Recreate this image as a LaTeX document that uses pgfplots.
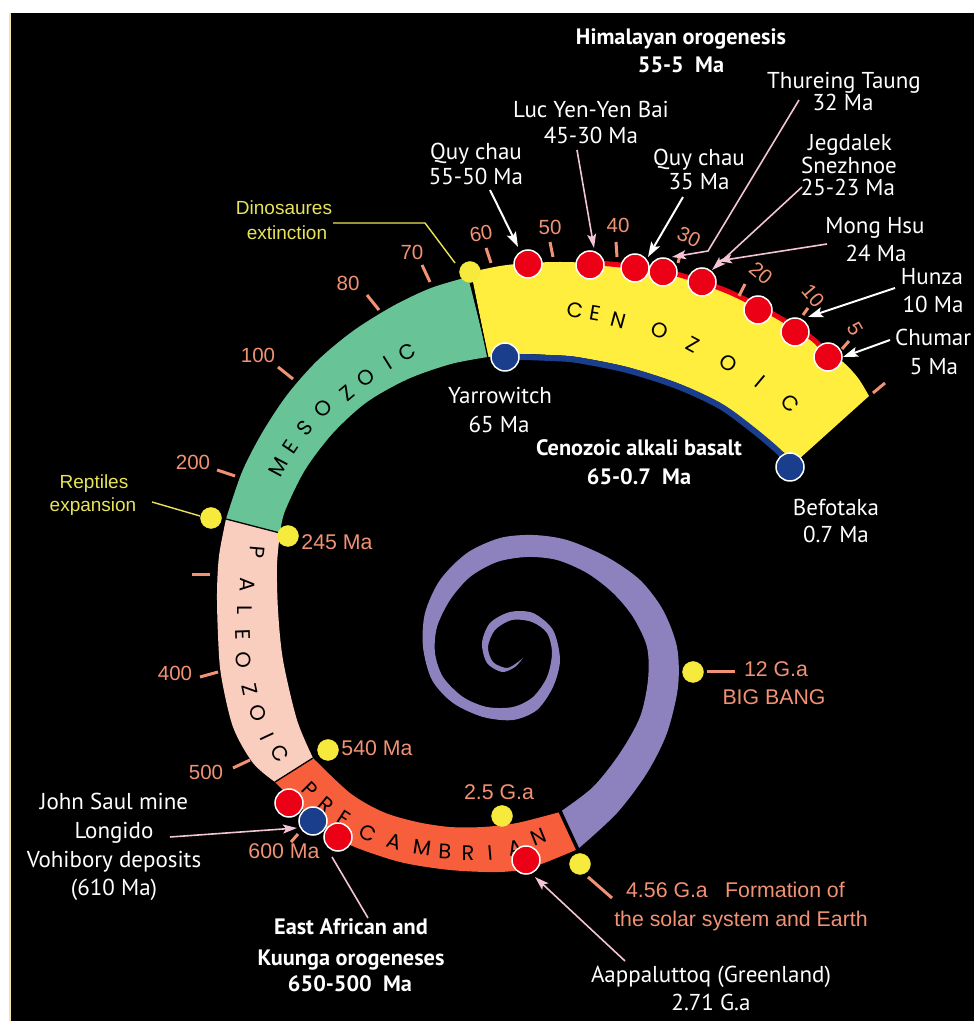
\documentclass[border=0pt]{standalone}
\usepackage{pgfplots}
\pgfplotsset{compat=1.18}
\usepgfplotslibrary{fillbetween}
\usetikzlibrary{arrows.meta}
\usepackage{fontspec}
\setmainfont{PT Sans}
\newfontfamily\arialf{Liberation Sans}
\newfontfamily\geof{Poppins}
\definecolor{cenyellow}{RGB}{255,238,62}
\definecolor{mesogreen}{RGB}{104,196,150}
\definecolor{paleopink}{RGB}{250,206,190}
\definecolor{precam}{RGB}{247,94,60}
\definecolor{purp}{RGB}{142,130,190}
\definecolor{dotred}{RGB}{236,0,22}
\definecolor{dotblue}{RGB}{26,62,140}
\definecolor{doty}{RGB}{246,234,60}
\definecolor{salmon}{RGB}{242,146,116}
\definecolor{ytext}{RGB}{232,228,90}
\definecolor{pinkl}{RGB}{242,196,214}
\definecolor{margl}{RGB}{246,228,165}
\tikzset{
 wt/.style={text=white, inner sep=0pt, anchor=base, font=\fontsize{23}{26}\selectfont},
 wb/.style={text=white, inner sep=0pt, anchor=base, font=\bfseries\fontsize{22.3}{25}\selectfont},
 sl/.style={text=salmon, inner sep=0pt, anchor=base, font=\arialf\fontsize{21.3}{23}\selectfont},
 tl/.style={text=salmon, inner sep=0pt, anchor=center, font=\arialf\fontsize{20.5}{22}\selectfont},
 yl/.style={text=ytext, inner sep=0pt, anchor=base, font=\arialf\fontsize{19}{21}\selectfont},
 bl/.style={text=black, inner sep=0pt, anchor=center, font=\geof\fontsize{21}{22}\selectfont},
}
\begin{document}
\begin{tikzpicture}
\begin{axis}[
 width=974pt, height=1021pt, scale only axis,
 xmin=0, xmax=974, ymin=0, ymax=1021, y dir=reverse,
 axis lines=none, xtick=\empty, ytick=\empty,
 axis background/.style={fill=black},
 set layers,
]
% ---------- spiral bands ----------
\addplot[draw=none, smooth, name path=cenO] coordinates {(471,272)(500,266)(528,263)(560,262)(593,263)(620,265)(650,269)(680,275)(727,291)(773,314)(813,339)(843,362)(858,378)(869,396)};
\addplot[draw=none, smooth, name path=cenI] coordinates {(488,357)(520,354)(550,355)(577,357)(627,367)(677,383)(720,403)(753,427)(780,450)(799,459)};
\addplot[fill=cenyellow, draw=none] fill between[of=cenO and cenI];

\addplot[draw=none, smooth, name path=mesO] coordinates {(468,277)(431,288)(393,306)(353,331)(317,361)(287,395)(262,433)(242,472)(226,519)};
\addplot[draw=none, smooth, name path=mesI] coordinates {(488,357)(451,364)(408,379)(367,402)(333,433)(305,470)(285,511)(280,533)};
\addplot[fill=mesogreen, draw=none] fill between[of=mesO and mesI];

\addplot[draw=none, smooth, name path=palO] coordinates {(226,519)(219,556)(217,593)(218,635)(221,675)(233,727)(253,763)(275,782)};
\addplot[draw=none, smooth, name path=palI] coordinates {(280,533)(277,565)(278,610)(283,660)(297,720)(313,758)};
\addplot[fill=paleopink, draw=none] fill between[of=palO and palI];

\addplot[draw=none, smooth, name path=preO] coordinates {(275,782)(300,807)(325,828)(350,845)(400,862)(450,870)(500,872)(533,867)(578,849)};
\addplot[draw=none, smooth, name path=preI] coordinates {(313,758)(350,793)(383,812)(417,822)(450,827)(483,827)(517,823)(560,812)};
\addplot[fill=precam, draw=none] fill between[of=preO and preI];

\addplot[draw=none, smooth, name path=purO] coordinates {(578,849)(617,813)(647,773)(667,733)(678,687)(677,647)(663,610)(640,580)(607,557)(567,540)(533,535)(500,538)(467,553)(440,580)(425,613)(423,647)(432,680)(453,703)(483,717)(513,720)(537,710)(553,687)(560,660)(553,630)(533,613)(510,612)(490,623)(482,643)(487,663)(502,672)(515,667)(523,658)};
\addplot[draw=none, smooth, name path=purI] coordinates {(560,812)(593,787)(620,753)(640,717)(648,680)(647,647)(633,617)(613,593)(587,573)(557,560)(527,557)(497,562)(470,577)(450,600)(437,627)(435,653)(443,677)(463,697)(487,707)(513,707)(533,697)(547,677)(552,653)(547,633)(532,622)(512,620)(495,630)(488,647)(493,662)(507,668)(518,662)(523,658)};
\addplot[fill=purp, draw=none] fill between[of=purO and purI];

% boundaries
\addplot[black, line width=1.3pt] coordinates {(470,274)(488,358)};
\addplot[black, line width=1.3pt] coordinates {(226,519)(280,533)};
\addplot[black, line width=1.3pt] coordinates {(275,782)(313,758)};
\addplot[black, line width=3.5pt] coordinates {(560,811)(578,850)};

% red and blue edge lines
\addplot[dotred, line width=5pt, smooth] coordinates {(598,263)(620,265)(650,269)(680,275)(727,291)(773,314)(813,339)(828,357)};
\addplot[dotblue, line width=6pt, smooth] coordinates {(505,358)(520,357)(550,358)(577,360)(627,370)(677,386)(720,406)(753,430)(780,453)(790,466)};

% ticks
\addplot[salmon, line width=3pt] coordinates {(486,248)(491,263)};
\addplot[salmon, line width=3pt] coordinates {(550,242)(553,257)};
\addplot[salmon, line width=3pt] coordinates {(616,242)(617,257)};
\addplot[salmon, line width=3pt] coordinates {(680,255)(678,263)};
\addplot[salmon, line width=3pt] coordinates {(745,284)(739,296)};
\addplot[salmon, line width=3pt] coordinates {(808,308)(803,315)};
\addplot[salmon, line width=3pt] coordinates {(849,341)(842,349)};
\addplot[salmon, line width=3pt] coordinates {(873,393)(885,383)};
\addplot[salmon, line width=3pt] coordinates {(422,265)(430,282)};
\addplot[salmon, line width=3pt] coordinates {(367,295)(379,310)};
\addplot[salmon, line width=3pt] coordinates {(278,367)(293,379)};
\addplot[salmon, line width=3pt] coordinates {(217,470)(235,476)};
\addplot[salmon, line width=3pt] coordinates {(192,575)(210,575)};
\addplot[salmon, line width=3pt] coordinates {(200,677)(218,672)};
\addplot[salmon, line width=3pt] coordinates {(233,768)(250,760)};
\addplot[salmon, line width=3pt] coordinates {(291,842)(298,834)};
\addplot[salmon, line width=3pt] coordinates {(707,672)(735,672)};
\addplot[salmon, line width=3pt] coordinates {(588,877)(612,898)};

% leader lines and arrows
\addplot[ytext, line width=1.4pt] coordinates {(333,223)(425,223)(455,263)};
\addplot[ytext, line width=1.4pt] coordinates {(152,502)(200,516)};
\addplot[white, line width=2pt, -{Stealth[length=15pt,width=10pt,inset=3pt]}] coordinates {(490,190)(518,247)};
\addplot[white, line width=2pt, -{Stealth[length=15pt,width=10pt,inset=3pt]}] coordinates {(683,197)(648,257)};
\addplot[white, line width=2pt, -{Stealth[length=15pt,width=10pt,inset=3pt]}] coordinates {(895,288)(808,317)};
\addplot[white, line width=2pt, -{Stealth[length=15pt,width=10pt,inset=3pt]}] coordinates {(890,340)(843,357)};
\addplot[pinkl, line width=1.6pt, -{Stealth[length=14pt,width=9pt,inset=3pt]}] coordinates {(577,150)(594,248)};
\addplot[pinkl, line width=1.6pt, -{Stealth[length=14pt,width=9pt,inset=3pt]}] coordinates {(799,100)(708,251)(672,257)};
\addplot[pinkl, line width=1.6pt, -{Stealth[length=14pt,width=9pt,inset=3pt]}] coordinates {(802,187)(712,270)};
\addplot[pinkl, line width=1.6pt, -{Stealth[length=14pt,width=9pt,inset=3pt]}] coordinates {(827,244)(718,261)};
\addplot[pinkl, line width=1.6pt, -{Stealth[length=14pt,width=9pt,inset=3pt]}] coordinates {(170,837)(297,828)};
\addplot[pinkl, line width=1.6pt, -{Stealth[length=14pt,width=9pt,inset=3pt]}] coordinates {(625,961)(535,877)};
\addplot[pinkl, line width=1.6pt] coordinates {(368,918)(332,857)};

% dots
\addplot[only marks, mark=*, mark size=10.5pt, mark options={fill=doty, draw=doty}] coordinates {(470,272)(211,518)(288,536)(328,750)(502,816)(580,864)(693,672)};
\addplot[only marks, mark=*, mark size=14pt, mark options={fill=dotred, draw=white, line width=1.5pt}] coordinates {(528,264)(590,265)(635,268)(663,272)(702,282)(758,310)(795,332)(828,357)(289,803)};
\addplot[only marks, mark=*, mark size=14pt, mark options={fill=dotblue, draw=white, line width=1.5pt}] coordinates {(505,357)(790,467)(313,821)};
\addplot[only marks, mark=*, mark size=14pt, mark options={fill=dotred, draw=white, line width=1.5pt}] coordinates {(338,837)(526,860)};

% margins
\addplot[fill=white, draw=none] coordinates {(0,0)(10,0)(10,1021)(0,1021)};
\addplot[fill=white, draw=none] coordinates {(0,0)(974,0)(974,13)(0,13)};
\addplot[margl, line width=1.5pt] coordinates {(10,13)(10,1021)};

% band letters
\node[bl, rotate=-8] at (axis cs:575,310) {C};
\node[bl, rotate=-10] at (axis cs:595,313) {E};
\node[bl, rotate=-15] at (axis cs:619,320) {N};
\node[bl, rotate=-20] at (axis cs:660,330) {O};
\node[bl, rotate=-28] at (axis cs:693,345) {Z};
\node[bl, rotate=-35] at (axis cs:728,363) {O};
\node[bl, rotate=-40] at (axis cs:760,382) {I};
\node[bl, rotate=-47] at (axis cs:790,403) {C};
\node[bl, rotate=62] at (axis cs:278,467) {M};
\node[bl, rotate=56] at (axis cs:290,447) {E};
\node[bl, rotate=50] at (axis cs:305,428) {S};
\node[bl, rotate=45] at (axis cs:323,408) {O};
\node[bl, rotate=40] at (axis cs:347,393) {Z};
\node[bl, rotate=36] at (axis cs:366,378) {O};
\node[bl, rotate=32] at (axis cs:388,363) {I};
\node[bl, rotate=28] at (axis cs:407,352) {C};
\node[bl, rotate=-95] at (axis cs:257,552) {P};
\node[bl, rotate=-92] at (axis cs:248,585) {A};
\node[bl, rotate=-90] at (axis cs:245,610) {L};
\node[bl, rotate=-88] at (axis cs:243,635) {E};
\node[bl, rotate=-85] at (axis cs:244,660) {O};
\node[bl, rotate=-78] at (axis cs:250,690) {Z};
\node[bl, rotate=-72] at (axis cs:258,713) {O};
\node[bl, rotate=-65] at (axis cs:267,737) {I};
\node[bl, rotate=-58] at (axis cs:280,753) {C};
\node[bl, rotate=-45] at (axis cs:310,790) {P};
\node[bl, rotate=-40] at (axis cs:326,805) {R};
\node[bl, rotate=-33] at (axis cs:344,818) {E};
\node[bl, rotate=-25] at (axis cs:368,833) {C};
\node[bl, rotate=-17] at (axis cs:394,842) {A};
\node[bl, rotate=-8] at (axis cs:422,848) {M};
\node[bl, rotate=-3] at (axis cs:445,852) {B};
\node[bl, rotate=0] at (axis cs:468,853) {R};
\node[bl, rotate=5] at (axis cs:490,853) {I};
\node[bl, rotate=12] at (axis cs:515,848) {A};
\node[bl, rotate=22] at (axis cs:539,837) {N};

% tick labels
\node[tl, rotate=10] at (axis cs:481,234) {60};
\node[tl] at (axis cs:412,252) {70};
\node[tl] at (axis cs:348,283) {80};
\node[tl] at (axis cs:258,355) {100};
\node[tl] at (axis cs:193,462) {200};
\node[tl] at (axis cs:175,673) {400};
\node[tl] at (axis cs:206,772) {500};
\node[tl] at (axis cs:550,227) {50};
\node[tl] at (axis cs:618,225) {40};
\node[tl, rotate=-25] at (axis cs:689,237) {30};
\node[tl, rotate=-40] at (axis cs:761,273) {20};
\node[tl, rotate=-50] at (axis cs:813,296) {10};
\node[tl, rotate=-60] at (axis cs:855,329) {5};

% salmon labels
\node[sl] at (axis cs:337,550) {245 Ma};
\node[sl] at (axis cs:377,756) {540 Ma};
\node[sl] at (axis cs:284,859) {600 Ma};
\node[sl] at (axis cs:499,800) {2.5 G.a};
\node[sl] at (axis cs:776,677) {12 G.a};
\node[sl] at (axis cs:774,705) {BIG BANG};
\node[sl] at (axis cs:667,898) {4.56 G.a};
\node[sl] at (axis cs:785,898) {Formation of};
\node[sl] at (axis cs:741,927) {the solar system and Earth};

% yellow labels
\node[yl] at (axis cs:284,215) {Dinosaures};
\node[yl] at (axis cs:287,240) {extinction};
\node[yl] at (axis cs:94,489) {Reptiles};
\node[yl] at (axis cs:93,512) {expansion};

% white labels
\node[wt] at (axis cs:476,160) {Quy chau};
\node[wt] at (axis cs:476,185) {55-50 Ma};
\node[wt] at (axis cs:591,118) {Luc Yen-Yen Bai};
\node[wt] at (axis cs:591,144) {45-30 Ma};
\node[wt] at (axis cs:699,166) {Quy chau};
\node[wt] at (axis cs:699,190) {35 Ma};
\node[wt] at (axis cs:844,89) {Thureing Taung};
\node[wt] at (axis cs:843,111) {32 Ma};
\node[wt] at (axis cs:850,151) {Jegdalek};
\node[wt] at (axis cs:849,174) {Snezhnoe};
\node[wt] at (axis cs:848,196) {25-23 Ma};
\node[wt] at (axis cs:875,234) {Mong Hsu};
\node[wt] at (axis cs:876,262) {24 Ma};
\node[wt] at (axis cs:932,285) {Hunza};
\node[wt] at (axis cs:933,313) {10 Ma};
\node[wt, anchor=base west] at (axis cs:895,346) {Chumar};
\node[wt] at (axis cs:934,375) {5 Ma};
\node[wt] at (axis cs:500,404) {Yarrowitch};
\node[wt] at (axis cs:499,433) {65 Ma};
\node[wt] at (axis cs:836,516) {Befotaka};
\node[wt] at (axis cs:836,543) {0.7 Ma};
\node[wt] at (axis cs:114,810) {John Saul mine};
\node[wt] at (axis cs:114,839) {Longido};
\node[wt] at (axis cs:114,868) {Vohibory deposits};
\node[wt] at (axis cs:114,896) {(610 Ma)};
\node[wt] at (axis cs:711,983) {Aappaluttoq (Greenland)};
\node[wt] at (axis cs:711,1011) {2.71 G.a};

% bold labels
\node[wb] at (axis cs:681,45) {Himalayan orogenesis};
\node[wb] at (axis cs:681,73) {55-5~~Ma};
\node[wb] at (axis cs:639,456) {Cenozoic alkali basalt};
\node[wb] at (axis cs:639,485) {65-0.7~~Ma};
\node[wb] at (axis cs:351,935) {East African and};
\node[wb] at (axis cs:351,965) {Kuunga orogeneses};
\node[wb] at (axis cs:350,991) {650-500~~Ma};
\end{axis}
\pgfresetboundingbox
\path[use as bounding box] (current axis.south west) rectangle (current axis.north east);
\end{tikzpicture}
\end{document}
